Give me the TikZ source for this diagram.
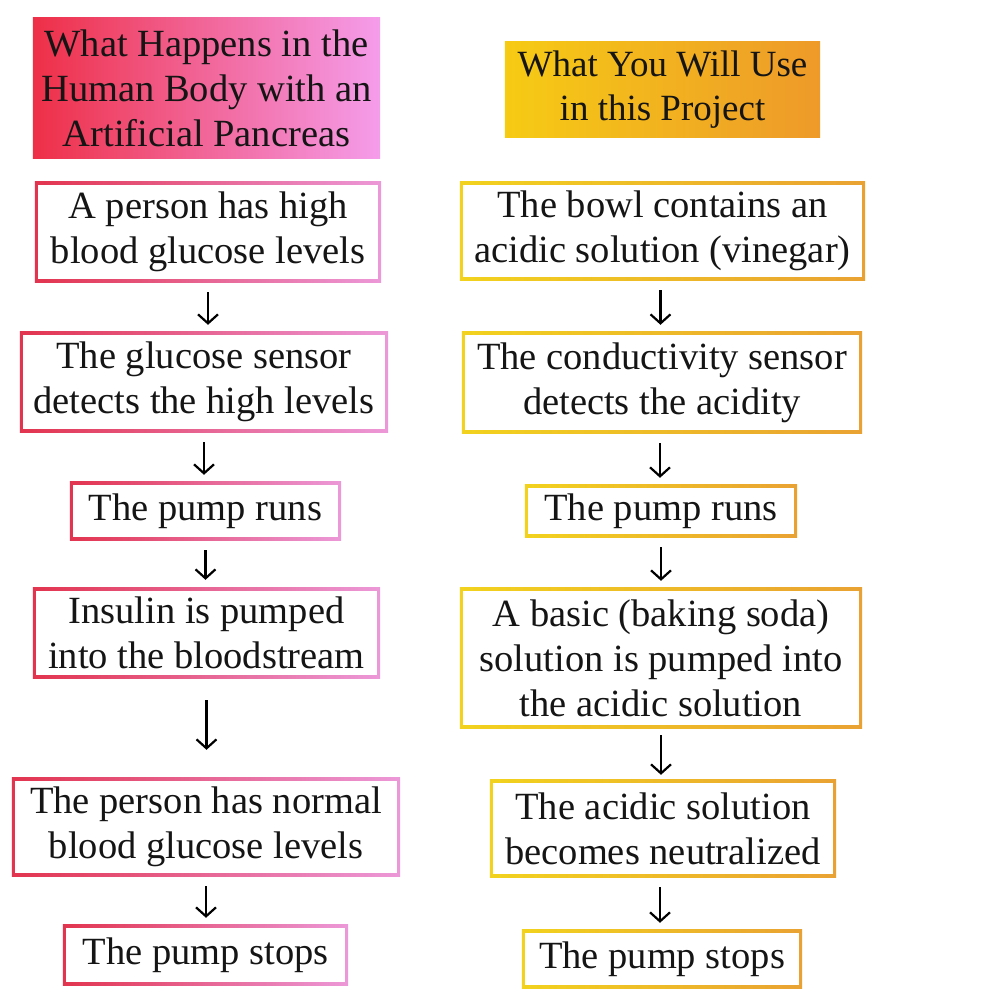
\documentclass[tikz,border=0pt]{standalone}
\usepackage{fontspec}
\setmainfont{Liberation Serif}
\usetikzlibrary{arrows.meta,backgrounds}
\definecolor{tred}{HTML}{EE2F47}
\definecolor{tpink}{HTML}{F59DEB}
\definecolor{bred}{HTML}{E2344F}
\definecolor{bpink}{HTML}{EC98D8}
\definecolor{tyel}{HTML}{F6CB14}
\definecolor{torange}{HTML}{EE9A2A}
\definecolor{byel}{HTML}{F2D21E}
\definecolor{borange}{HTML}{E9A232}
\definecolor{txt}{HTML}{151515}
\begin{document}
\begin{tikzpicture}[x=1pt,y=-1pt,
  box/.style={align=center, inner sep=0pt, text=txt, font=\fontsize{38.5}{45}\selectfont},
  conn/.style={-{Straight Barb[length=9pt,width=20pt,line width=2.2pt]}, line width=2.2pt, shorten <=10pt, shorten >=7pt}]
\useasboundingbox (0,0) rectangle (990,1004);

% left column
\node[box, minimum width=347pt, minimum height=140pt] (lt) at (206.5,88) {What Happens in the\\Human Body with an\\Artificial Pancreas};
\node[box, minimum width=346pt, minimum height=100pt] (l1) at (208,232) {A person has high\\blood glucose levels};
\node[box, minimum width=368pt, minimum height=100pt] (l2) at (204,382) {The glucose sensor\\detects the high levels};
\node[box, minimum width=271pt, minimum height=58pt] (l3) at (205.5,511) {The pump runs};
\node[box, minimum width=347pt, minimum height=90pt] (l4) at (206.5,633) {Insulin is pumped\\into the bloodstream};
\node[box, minimum width=388pt, minimum height=98pt] (l5) at (206,827) {The person has normal\\blood glucose levels};
\node[box, minimum width=285pt, minimum height=60pt] (l6) at (205.5,955) {The pump stops};

% right column
\node[box, minimum width=315pt, minimum height=95pt, font=\fontsize{37}{44}\selectfont] (rt) at (662.5,89.5) {What You Will Use\\in this Project};
\node[box, minimum width=405pt, minimum height=98pt] (r1) at (662.5,231) {The bowl contains an\\acidic solution (vinegar)};
\node[box, minimum width=400pt, minimum height=101pt] (r2) at (662,382.5) {The conductivity sensor\\detects the acidity};
\node[box, minimum width=272pt, minimum height=52pt] (r3) at (661,511) {The pump runs};
\node[box, minimum width=402pt, minimum height=140pt] (r4) at (661,658) {A basic (baking soda)\\solution is pumped into\\the acidic solution};
\node[box, minimum width=346pt, minimum height=97pt] (r5) at (663,828.5) {The acidic solution\\becomes neutralized};
\node[box, minimum width=280pt, minimum height=58pt] (r6) at (662,959) {The pump stops};

\begin{scope}[on background layer]
  \fill[white] (0,0) rectangle (990,1004);
  \shade[left color=tred, right color=tpink] (lt.south west) rectangle (lt.north east);
  \shade[left color=tyel, right color=torange] (rt.south west) rectangle (rt.north east);
  \foreach \n/\a/\b in {l1/bred/bpink,l2/bred/bpink,l3/bred/bpink,l4/bred/bpink,l5/bred/bpink,l6/bred/bpink,
                        r1/byel/borange,r2/byel/borange,r3/byel/borange,r4/byel/borange,r5/byel/borange,r6/byel/borange}{
    \shade[left color=\a, right color=\b] (\n.south west) rectangle (\n.north east);
    \fill[white] ([shift={(3pt,-3pt)}]\n.north west) rectangle ([shift={(-3pt,3pt)}]\n.south east);
  }
\end{scope}

% connectors
\draw[conn] (l1.south) -- (l1.south |- l2.north);
\draw[conn] (l2.south) -- (l2.south |- l3.north);
\draw[conn, shorten >=8pt] (l3.south) -- (l3.south |- l4.north);
\draw[conn, shorten <=22pt, shorten >=28pt] (l4.south) -- (l4.south |- l5.north);
\draw[conn] (l5.south) -- (l5.south |- l6.north);

\draw[conn] ([xshift=-2pt]r1.south) -- ([xshift=-2pt]r1.south |- r2.north);
\draw[conn] ([xshift=-2pt]r2.south) -- ([xshift=-2pt]r2.south |- r3.north);
\draw[conn] (r3.south) -- (r3.south |- r4.north);
\draw[conn, shorten <=7pt, shorten >=5pt] (r4.south) -- (r4.south |- r5.north);
\draw[conn] ([xshift=-3pt]r5.south) -- ([xshift=-3pt]r5.south |- r6.north);
\end{tikzpicture}
\end{document}
